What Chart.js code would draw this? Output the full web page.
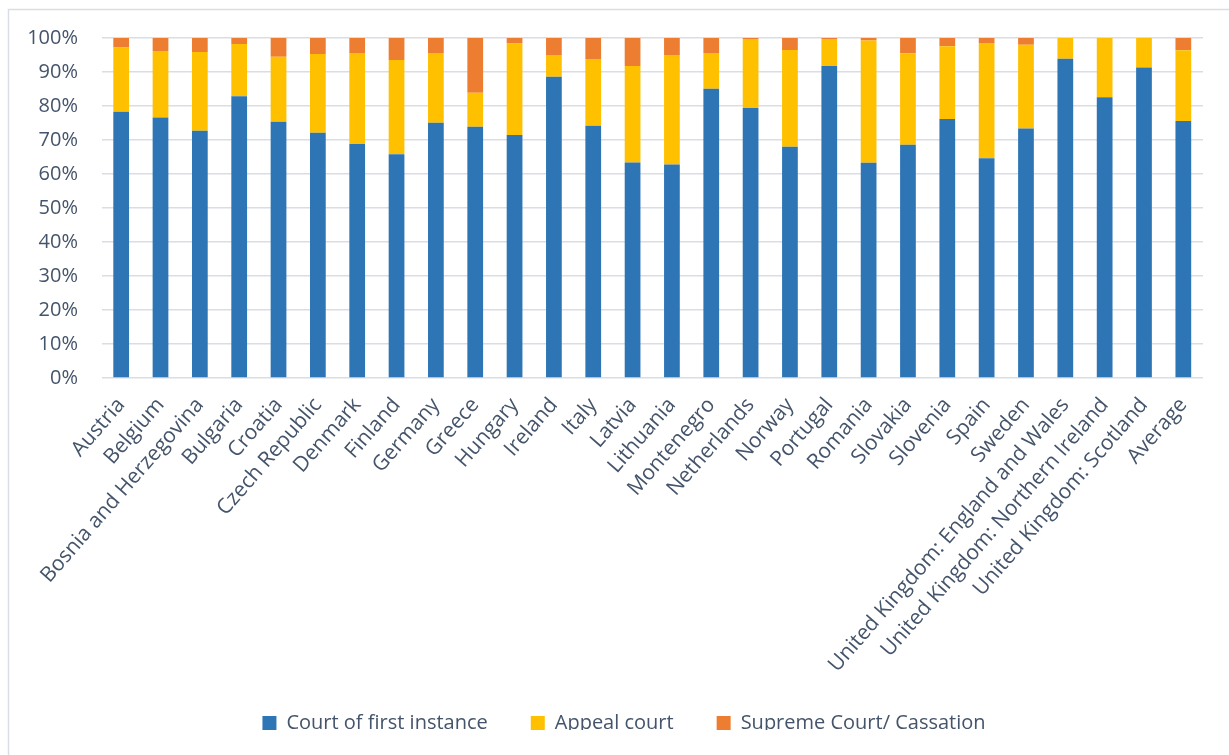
<!DOCTYPE html>
<html>
<head>
<meta charset="utf-8">
<script src="https://cdn.jsdelivr.net/npm/chart.js@4/dist/chart.umd.min.js"></script>
<style>
  html, body { margin: 0; padding: 0; background: #ffffff; }
  #wrap { position: relative; width: 1229px; height: 755px; }
  canvas { display: block; }
</style>
</head>
<body>
<div id="wrap"><canvas id="c" width="1229" height="755"></canvas></div>
<script>
const categories = ["Austria", "Belgium", "Bosnia and Herzegovina", "Bulgaria", "Croatia", "Czech Republic", "Denmark", "Finland", "Germany", "Greece", "Hungary", "Ireland", "Italy", "Latvia", "Lithuania", "Montenegro", "Netherlands", "Norway", "Portugal", "Romania", "Slovakia", "Slovenia", "Spain", "Sweden", "United Kingdom: England and Wales", "United Kingdom: Northern Ireland", "United Kingdom: Scotland", "Average"];
const firstInstance = [78.3, 76.6, 72.7, 82.9, 75.4, 72.1, 68.8, 65.8, 75.1, 73.9, 71.5, 88.6, 74.2, 63.4, 62.8, 85.1, 79.4, 68.0, 91.8, 63.3, 68.6, 76.2, 64.6, 73.4, 93.9, 82.6, 91.3, 75.6];
const appealCourt = [18.9, 19.6, 23.2, 15.3, 19.1, 23.2, 26.8, 27.7, 20.5, 10.0, 26.9, 6.4, 19.6, 28.4, 32.2, 10.5, 20.3, 28.5, 7.9, 36.0, 26.9, 21.4, 33.9, 24.6, 6.1, 17.4, 8.7, 20.8];
const supremeCourt = [2.8, 3.8, 4.1, 1.8, 5.5, 4.7, 4.4, 6.5, 4.4, 16.1, 1.6, 5.0, 6.2, 8.2, 5.0, 4.4, 0.3, 3.5, 0.3, 0.7, 4.5, 2.4, 1.5, 2.0, 0, 0, 0, 3.6];
const seriesNames = ["Court of first instance", "Appeal court", "Supreme Court/ Cassation"];
const yTicks = [0, 10, 20, 30, 40, 50, 60, 70, 80, 90, 100];

const TEXT = '#44546A';
const GRID = '#d9dde6';
const FONT = "'Open Sans', 'DejaVu Sans', sans-serif";

const frame = {
  id: 'frame',
  afterLayout(chart) {
    // centre the legend row under the plot like the reference
    if (chart.legend) { chart.legend.left += 18.5; chart.legend.right += 18.5; }
  },
  beforeDraw(chart) {
    const ctx = chart.ctx;
    ctx.save();
    ctx.fillStyle = '#ffffff';
    ctx.fillRect(0, 0, chart.width, chart.height);
    ctx.strokeStyle = GRID;
    ctx.lineWidth = 1.5;
    ctx.strokeRect(8.5, 9.5, 1400, 900);
    ctx.restore();
  }
};

new Chart(document.getElementById('c'), {
  type: 'bar',
  data: {
    labels: categories,
    datasets: [
      { label: seriesNames[0], data: firstInstance, backgroundColor: '#2E75B6', borderWidth: 0 },
      { label: seriesNames[1], data: appealCourt, backgroundColor: '#FFC000', borderWidth: 0 },
      { label: seriesNames[2], data: supremeCourt, backgroundColor: '#ED7D31', borderWidth: 0 }
    ]
  },
  options: {
    responsive: false,
    animation: false,
    devicePixelRatio: 1,
    datasets: { bar: { barPercentage: 0.4, categoryPercentage: 1.0 } },
    layout: { padding: { left: 8, right: 26, top: 38, bottom: 25 } },
    plugins: {
      tooltip: { enabled: false },
      legend: {
        position: 'bottom',
        maxHeight: 60,
        labels: {
          boxWidth: 14, boxHeight: 14, padding: 43,
          color: TEXT,
          font: { family: FONT, size: 20 }
        }
      }
    },
    scales: {
      x: {
        stacked: true,
        grid: { display: false, drawTicks: false },
        border: { display: false },
        afterFit(scale) { scale.height = 292; },
        ticks: {
          autoSkip: false, maxRotation: 49, minRotation: 49, padding: 15,
          color: TEXT, font: { family: FONT, size: 21 }
        }
      },
      y: {
        stacked: true,
        min: 0, max: 100,
        afterFit(scale) { scale.width = 93.5; },
        afterBuildTicks(scale) { scale.ticks = yTicks.map(v => ({ value: v })); },
        grid: { color: GRID, lineWidth: 1.5, drawTicks: false },
        border: { display: false },
        ticks: {
          padding: 23.5, color: TEXT, font: { family: FONT, size: 20 },
          callback: (v) => v + '%'
        }
      }
    }
  },
  plugins: [frame]
});
</script>
</body>
</html>
